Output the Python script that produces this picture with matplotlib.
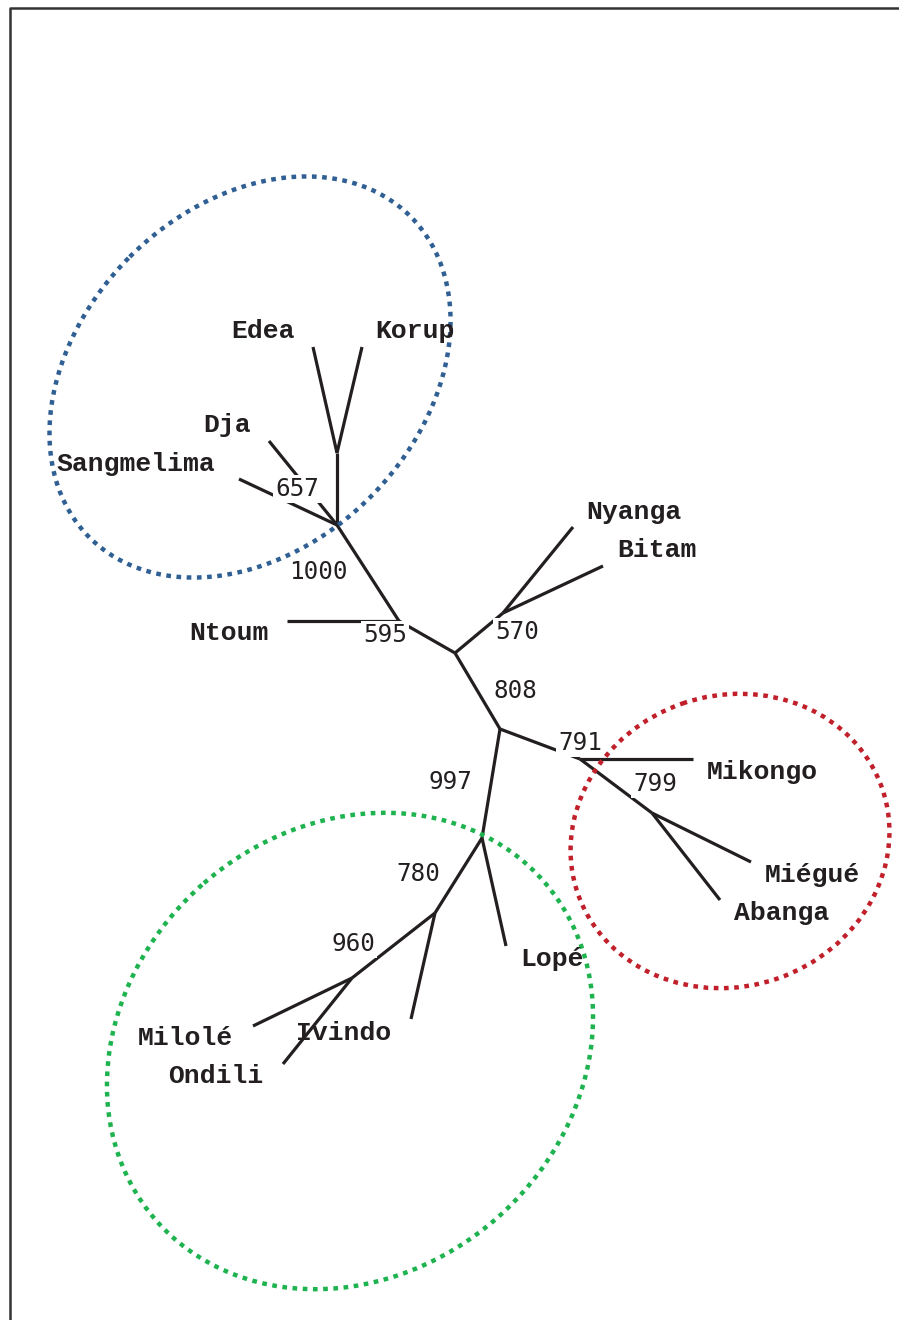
import matplotlib
matplotlib.use("Agg")
import matplotlib.pyplot as plt
from matplotlib.patches import Ellipse

# ---- tree data -------------------------------------------------------------
# node coordinates of the unrooted tree layout (drawing units, y grows downward)
node_names = ["Edea", "Korup", "Dja", "Sangmelima", "Ntoum", "Nyanga", "Bitam",
              "Mikongo", "Miégué", "Abanga", "Lopé", "Ivindo", "Milolé", "Ondili",
              "n_ek", "n_a", "n_b", "n_c", "n_d", "n_e", "n_f", "n_g", "n_h",
              "n_i", "n_j"]
node_x = [313, 362, 269, 239, 287, 573, 603,
          693, 751, 720, 506, 411, 253, 283,
          337, 337, 399, 455, 503, 500, 580, 652, 482,
          435, 352]
node_y = [347, 347, 441, 479, 621, 527, 566,
          759, 862, 900, 946, 1019, 1026, 1064,
          453, 525, 621, 653, 613, 729, 759, 813, 838,
          913, 978]

# branches as (parent, child)
edges = [("n_ek", "Edea"), ("n_ek", "Korup"), ("n_a", "n_ek"),
         ("n_a", "Dja"), ("n_a", "Sangmelima"), ("n_b", "n_a"),
         ("n_b", "Ntoum"), ("n_c", "n_b"), ("n_c", "n_d"),
         ("n_d", "Nyanga"), ("n_d", "Bitam"), ("n_c", "n_e"),
         ("n_e", "n_f"), ("n_f", "Mikongo"), ("n_f", "n_g"),
         ("n_g", "Miégué"), ("n_g", "Abanga"), ("n_e", "n_h"),
         ("n_h", "Lopé"), ("n_h", "n_i"), ("n_i", "Ivindo"),
         ("n_i", "n_j"), ("n_j", "Milolé"), ("n_j", "Ondili")]

# bootstrap support values (out of 1000)
support_values = [657, 1000, 595, 570, 808, 791, 799, 997, 780, 960]

# ---- layout ---------------------------------------------------------------
tip_label_pos = {
    "Edea": (263, 331), "Korup": (415, 331), "Dja": (227, 425),
    "Sangmelima": (136, 464), "Ntoum": (229, 633), "Nyanga": (634, 512),
    "Bitam": (657, 550), "Mikongo": (762, 772), "Miégué": (812, 875),
    "Abanga": (782, 913), "Lopé": (552, 959), "Ivindo": (344, 1033),
    "Milolé": (185, 1038), "Ondili": (216, 1076),
}
support_pos = [(297, 489), (318, 572), (385, 635), (517, 632), (515, 691),
               (580, 743), (655, 784), (450, 782), (418, 874), (353, 944)]

# group outlines: centre, width, height, angle (degrees)
groups = [
    dict(xy=(250, 377), w=454, h=340, angle=-45, color="#2f5f93"),
    dict(xy=(730, 841), w=322, h=291, angle=-19, color="#c1202b"),
    dict(xy=(350, 1051), w=515, h=445, angle=-41, color="#1fb350"),
]

W, H = 899, 1320
fig = plt.figure(figsize=(W / 100, H / 100), dpi=100)
ax = fig.add_axes([0, 0, 1, 1])
ax.set_xlim(0, W)
ax.set_ylim(H, 0)
ax.set_aspect("equal")
ax.axis("off")

# frame (left and top edges)
ax.plot([10, 10, W + 5], [H + 5, 8, 8], color="#333333", lw=1.8,
        solid_capstyle="butt", zorder=1)

# branches
pos = {n: (x, y) for n, x, y in zip(node_names, node_x, node_y)}
for p, c in edges:
    (x0, y0), (x1, y1) = pos[p], pos[c]
    ax.plot([x0, x1], [y0, y1], color="#231f20", lw=2.3,
            solid_capstyle="butt", solid_joinstyle="miter", zorder=2)

# group outlines
for g in groups:
    e = Ellipse(g["xy"], g["w"], g["h"], angle=g["angle"], fill=False,
                edgecolor=g["color"], lw=3.2, linestyle=(0, (1.05, 1.25)),
                capstyle="butt", zorder=3)
    ax.add_patch(e)

# support values (white box hides the branch underneath)
for v, (x, y) in zip(support_values, support_pos):
    ax.text(x, y, str(v), ha="center", va="center", fontsize=17.5,
            family="DejaVu Sans Mono", color="#231f20", zorder=4,
            bbox=dict(boxstyle="square,pad=0.08", fc="white", ec="none"))

# tip names
for name, (x, y) in tip_label_pos.items():
    ax.text(x, y, name, ha="center", va="center", fontsize=19,
            family="Liberation Mono", weight="bold", color="#231f20",
            zorder=5)

fig.savefig("out.png", dpi=100)
